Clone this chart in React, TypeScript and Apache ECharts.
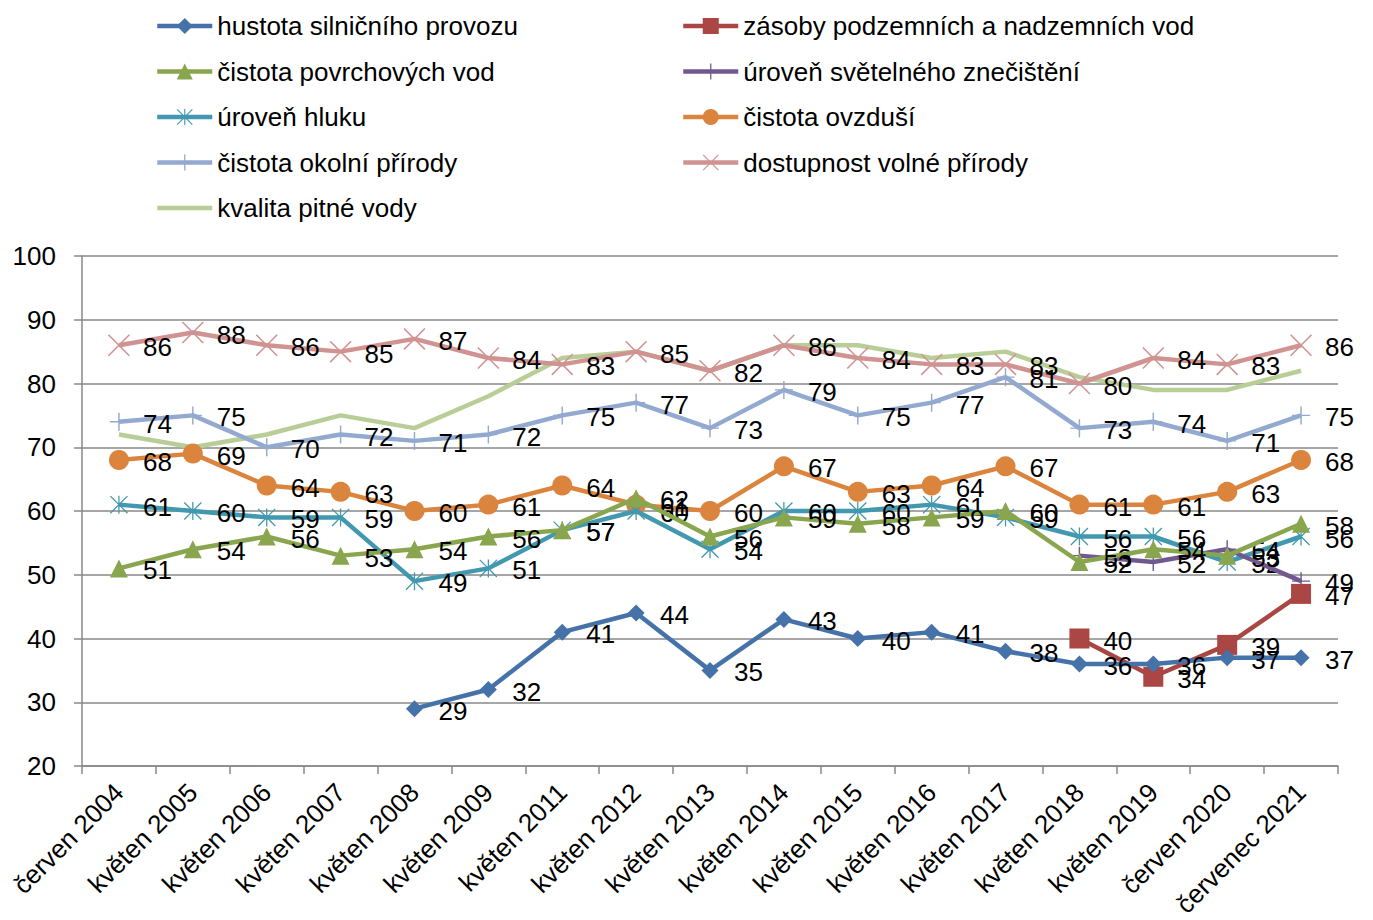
import React, { useEffect, useRef } from "react";
import * as echarts from "echarts";

const categories = [
  "červen 2004", "květen 2005", "květen 2006", "květen 2007", "květen 2008", "květen 2009",
  "květen 2011", "květen 2012", "květen 2013", "květen 2014", "květen 2015", "květen 2016",
  "květen 2017", "květen 2018", "květen 2019", "červen 2020", "červenec 2021",
];
const yTicks = { min: 20, max: 100, interval: 10 };

const hustota = [null, null, null, null, 29, 32, 41, 44, 35, 43, 40, 41, 38, 36, 36, 37, 37];
const zasoby = [null, null, null, null, null, null, null, null, null, null, null, null, null, 40, 34, 39, 47];
const povrchove = [51, 54, 56, 53, 54, 56, 57, 62, 56, 59, 58, 59, 60, 52, 54, 53, 58];
const svetelne = [null, null, null, null, null, null, null, null, null, null, null, null, null, 53, 52, 54, 49];
const hluk = [61, 60, 59, 59, 49, 51, 57, 60, 54, 60, 60, 61, 59, 56, 56, 52, 56];
const ovzdusi = [68, 69, 64, 63, 60, 61, 64, 61, 60, 67, 63, 64, 67, 61, 61, 63, 68];
const okolni = [74, 75, 70, 72, 71, 72, 75, 77, 73, 79, 75, 77, 81, 73, 74, 71, 75];
const dostupnost = [86, 88, 86, 85, 87, 84, 83, 85, 82, 86, 84, 83, 83, 80, 84, 83, 86];
const pitna = [72, 70, 72, 75, 73, 78, 84, 85, 82, 86, 86, 84, 85, 81, 79, 79, 82];

const names = [
  "hustota silničního provozu",
  "zásoby podzemních a nadzemních vod",
  "čistota povrchových vod",
  "úroveň světelného znečištění",
  "úroveň hluku",
  "čistota ovzduší",
  "čistota okolní přírody",
  "dostupnost volné přírody",
  "kvalita pitné vody",
];

const PLUS = "path://M-0.08,-1H0.08V-0.08H1V0.08H0.08V1H-0.08V0.08H-1V-0.08H-0.08Z";
const XMARK = "path://M-1,-0.9L-0.9,-1L1,0.9L0.9,1Z M-1,0.9L0.9,-1L1,-0.9L-0.9,1Z";
const STAR = "path://M-1,-0.9L-0.9,-1L1,0.9L0.9,1Z M-1,0.9L0.9,-1L1,-0.9L-0.9,1Z M-0.07,-1L0.07,-1L0.07,1L-0.07,1Z";

const FONT = "Liberation Sans";
const FS = 26;

export default function App() {
  const ref = useRef<HTMLDivElement>(null);
  useEffect(() => {
    if (!ref.current) return;
    const chart = echarts.init(ref.current, null, { renderer: "svg" });
    const defs = [
      { data: hustota, color: "#4672AA", symbol: "diamond", size: 17 },
      { data: zasoby, color: "#AA4643", symbol: "rect", size: 20 },
      { data: povrchove, color: "#89A54E", symbol: "triangle", size: 18 },
      { data: svetelne, color: "#71588F", symbol: PLUS, size: 18 },
      { data: hluk, color: "#4198AF", symbol: STAR, size: 18 },
      { data: ovzdusi, color: "#DB843D", symbol: "circle", size: 20 },
      { data: okolni, color: "#93A9CF", symbol: PLUS, size: 18 },
      { data: dostupnost, color: "#D09392", symbol: XMARK, size: 22 },
      { data: pitna, color: "#B9CD96", symbol: "none", size: 0 },
    ];
    const series = defs.map((d, i) => ({
      name: names[i],
      type: "line",
      data: d.data,
      symbol: d.symbol,
      symbolSize: d.size,
      showSymbol: d.symbol !== "none",
      connectNulls: false,
      lineStyle: { color: d.color, width: 4.5 },
      itemStyle: { color: d.color },
      z: 10 - i,
      label: {
        show: true,
        position: "right",
        distance: Math.max(2, 24 - d.size / 2),
        offset: [0, 2],
        color: "#000",
        fontSize: FS,
        fontFamily: FONT,
      },
    }));
    const legendCommon = {
      orient: "vertical",
      top: 12,
      padding: 0,
      itemWidth: 55,
      itemHeight: 20,
      itemGap: 17.5,
      symbolKeepAspect: true,
      lineStyle: { width: "inherit" },
      textStyle: { fontSize: FS, fontFamily: FONT, color: "#000", lineHeight: 28 },
    };
    chart.setOption({
      animation: false,
      backgroundColor: "#fff",
      textStyle: { fontFamily: FONT },
      legend: [
        {
          ...legendCommon,
          left: 155,
          data: [names[0], names[2], names[4], names[6], { name: names[8], icon: "path://M0,0H55V4.5H0Z" }],
        },
        { ...legendCommon, left: 681, data: [names[1], names[3], names[5], names[7]] },
      ],
      grid: { left: 82, right: 35, top: 256, bottom: 154, containLabel: false },
      xAxis: {
        type: "category",
        data: categories,
        boundaryGap: true,
        axisLine: { lineStyle: { color: "#888", width: 1.5 } },
        axisTick: { show: true, interval: 0, length: 8, lineStyle: { color: "#888", width: 1.5 } },
        axisLabel: { interval: 0, rotate: 45, margin: 22, fontSize: FS, color: "#000", fontFamily: FONT },
      },
      yAxis: {
        type: "value",
        min: yTicks.min,
        max: yTicks.max,
        interval: yTicks.interval,
        axisLine: { show: true, lineStyle: { color: "#888", width: 1.5 } },
        axisTick: { show: true, length: 8, lineStyle: { color: "#888", width: 1.5 } },
        splitLine: { show: true, lineStyle: { color: "#888", width: 1.5 } },
        axisLabel: { margin: 26, fontSize: FS, color: "#000", fontFamily: FONT },
      },
      series,
    });
    return () => chart.dispose();
  }, []);
  return (
    <div
      ref={ref}
      style={{ position: "fixed", left: 0, top: 0, width: 1373, height: 920, overflow: "hidden", background: "#fff" }}
    />
  );
}
